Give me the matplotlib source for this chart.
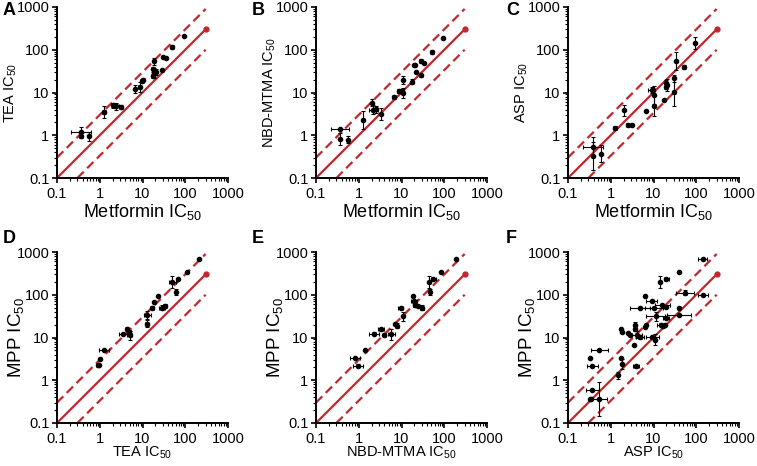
import matplotlib
matplotlib.use("Agg")
import numpy as np
import matplotlib.pyplot as plt
from matplotlib.ticker import FixedLocator, LogLocator, NullFormatter, FixedFormatter

plt.rcParams['font.family'] = ['Liberation Sans', 'DejaVu Sans']
plt.rcParams['mathtext.default'] = 'regular'

RED = '#c1272d'

# ---- data; err values are fold factors, 1 = no bar ----
# A: Metformin vs TEA
a_x = [0.37, 0.37, 0.56, 1.26, 2.04, 2.4, 3.2, 6.6, 8.6, 9.9, 10.2, 17.6, 18, 19, 18.5, 20.9, 29, 30, 35, 50, 92]
a_y = [1.22, 0.97, 0.94, 3.5, 5.0, 4.8, 4.6, 12.3, 13.7, 18.5, 20, 24, 35, 54, 29, 30, 33, 67, 63, 115, 207]
a_xerr = [1.7, 1, 1, 1.1, 1.1, 1.15, 1.05, 1.05, 1.1, 1, 1.05, 1, 1, 1, 1, 1, 1, 1, 1, 1, 1]
a_yerr = [1.3, 1.15, 1.25, 1.4, 1.15, 1.2, 1.1, 1.25, 1.3, 1.1, 1.1, 1.1, 1.15, 1.2, 1.3, 1.2, 1.05, 1.05, 1.05, 1.1, 1]

# B: Metformin vs NBD-MTMA
b_x = [0.36, 0.36, 0.57, 1.27, 2.0, 2.2, 2.5, 3.3, 6.6, 8.8, 10, 10.6, 10.6, 18, 19.7, 21, 21.6, 29, 29, 34, 51, 94]
b_y = [1.39, 0.81, 0.78, 2.3, 5.8, 4.0, 4.07, 3.1, 7.9, 10.8, 10.8, 9.7, 19.5, 18, 44, 44, 30, 54, 25, 48, 88, 190]
b_xerr = [1.6, 1, 1, 1.05, 1, 1.25, 1, 1, 1, 1.15, 1.1, 1, 1, 1, 1, 1, 1, 1, 1, 1, 1, 1]
b_yerr = [1, 1.4, 1.2, 1.6, 1.2, 1.25, 1.2, 1.4, 1.1, 1.1, 1.1, 1.3, 1.25, 1.15, 1.05, 1.05, 1, 1.1, 1.1, 1, 1.1, 1]

# C: Metformin vs ASP
c_x = [0.38, 0.38, 0.59, 1.26, 2.07, 2.5, 3.2, 6.6, 9.1, 10.3, 10.3, 18, 19.2, 20, 20.8, 30, 30, 34, 51, 95]
c_y = [0.53, 0.33, 0.37, 1.5, 3.8, 1.75, 1.7, 3.6, 11.4, 8.7, 4.8, 6.7, 16.4, 13.2, 14.8, 21.4, 10.4, 55, 40, 145]
c_xerr = [1.7, 1, 1, 1.1, 1, 1.1, 1, 1, 1.2, 1, 1, 1, 1, 1, 1, 1, 1, 1, 1, 1]
c_yerr = [1.7, 2.1, 1.6, 1, 1.35, 1, 1, 1, 1.15, 1.6, 1.7, 1, 1.2, 1.1, 1.4, 1.2, 2.1, 1.6, 1.1, 1.4]

# D: TEA vs MPP
d_x = [0.91, 0.95, 1.0, 1.26, 3.5, 4.3, 4.8, 5.0, 12.7, 13, 17, 19, 23, 28.6, 34, 50, 62, 67, 112, 205]
d_y = [2.23, 2.3, 3.2, 5.0, 12.3, 16, 13.4, 11.2, 21, 33, 50, 68, 92, 50, 56, 199, 116, 238, 334, 676]
d_xerr = [1, 1, 1, 1.3, 1.25, 1, 1.1, 1.15, 1.1, 1.2, 1.1, 1, 1, 1.15, 1.1, 1.2, 1, 1, 1.05, 1]
d_yerr = [1.1, 1, 1, 1, 1, 1.1, 1.1, 1.3, 1.2, 1.25, 1.1, 1.05, 1, 1.15, 1.1, 1.4, 1.15, 1, 1, 1]

# E: NBD-MTMA vs MPP
e_x = [0.81, 0.97, 1.39, 2.3, 3.3, 4.0, 5.8, 7.2, 7.9, 9.6, 10.6, 18.7, 19.5, 20.5, 24.5, 30, 43, 47.5, 55, 86, 192]
e_y = [3.3, 2.2, 5.0, 12.3, 15.5, 11.6, 11.9, 21, 19, 50, 31, 92, 70, 58, 53.6, 50, 199, 116, 238, 334, 676]
e_xerr = [1.3, 1.3, 1, 1.3, 1.2, 1.1, 1.2, 1.05, 1.05, 1.15, 1.05, 1.05, 1.2, 1.1, 1, 1.1, 1.05, 1.05, 1.15, 1.05, 1]
e_yerr = [1, 1.1, 1, 1.1, 1.1, 1, 1.35, 1.05, 1.15, 1.05, 1.3, 1, 1.1, 1.1, 1, 1.15, 1.4, 1.15, 1, 1, 1]

# F: ASP vs MPP
f_x = [141, 39, 20, 14.2, 55, 145, 6.4, 9.1, 16, 19.1, 4.9, 10.2, 40, 19.6, 11.2, 14.7, 16.7, 18.5, 39, 6.6,
       6.2, 3.7, 3.7, 2.6, 2.8, 1.79, 1.75, 4.07, 4.9, 9.4, 11, 3.5, 3.9, 1.73, 1.8, 1.5, 0.54, 0.33, 0.37,
       0.37, 0.33, 0.35, 0.52]
f_y = [676, 334, 238, 199, 112, 97, 92, 70, 58, 53, 50, 50, 50, 29, 31, 20, 18.7, 20, 34, 20,
       17.6, 20, 16, 12.8, 11.6, 13.2, 15.8, 11.6, 10.3, 10.3, 8.9, 6.6, 2.1, 3.4, 2.44, 1.3, 5.2, 3.3, 2.2,
       0.58, 0.37, 0.37, 0.37]
f_xerr = [1.25, 1, 1.15, 1, 1.6, 1.3, 1, 1.35, 1.5, 1, 1.7, 1.6, 1, 1.15, 1.7, 1.2, 1, 1, 1.9, 1,
          1, 1, 1, 1, 1, 1, 1, 1.3, 1.25, 1.4, 1, 1, 1.15, 1, 1, 1, 1.6, 1, 1.35,
          1.4, 1, 1, 1.6]
f_yerr = [1, 1, 1, 1.4, 1.15, 1, 1, 1, 1.05, 1, 1, 1, 1, 1, 1.25, 1.1, 1, 1, 1, 1,
          1, 1.15, 1.15, 1, 1, 1, 1, 1.2, 1.1, 1, 1.35, 1, 1.1, 1, 1.3, 1.2, 1, 1, 1,
          1, 1, 1, 2.5]

panels = [
    ('A', a_x, a_y, a_xerr, a_yerr, 'Metformin IC$_{50}$', 'TEA IC$_{50}$'),
    ('B', b_x, b_y, b_xerr, b_yerr, 'Metformin IC$_{50}$', 'NBD-MTMA IC$_{50}$'),
    ('C', c_x, c_y, c_xerr, c_yerr, 'Metformin IC$_{50}$', 'ASP IC$_{50}$'),
    ('D', d_x, d_y, d_xerr, d_yerr, 'TEA IC$_{50}$', 'MPP IC$_{50}$'),
    ('E', e_x, e_y, e_xerr, e_yerr, 'NBD-MTMA IC$_{50}$', 'MPP IC$_{50}$'),
    ('F', f_x, f_y, f_xerr, f_yerr, 'ASP IC$_{50}$', 'MPP IC$_{50}$'),
]

ticks = [0.1, 1, 10, 100, 1000]
tick_labels = ['0.1', '1', '10', '100', '1000']

W, H = 757, 466
fig = plt.figure(figsize=(W / 100, H / 100), dpi=100)

lefts = [57, 316, 568]
tops = [7, 252]
size = 171
dash = (0, (4, 2.2))

for i, (letter, x, y, xe, ye, xl, yl) in enumerate(panels):
    row, col = divmod(i, 3)
    l = lefts[col]
    t = tops[row]
    ax = fig.add_axes([l / W, 1 - (t + size) / H, size / W, size / H])
    ax.set_xscale('log')
    ax.set_yscale('log')
    ax.set_xlim(0.1, 1000)
    ax.set_ylim(0.1, 1000)

    # identity line and 3-fold bands
    ln = np.array([0.1, 300])
    ax.plot(ln, ln, color=RED, lw=1.6, zorder=1, clip_on=False)
    ax.plot(ln[1:], ln[1:], 'o', color=RED, ms=3.5, zorder=1, clip_on=False)
    ax.plot(ln, ln * 3, color=RED, lw=1.6, ls=dash, zorder=1, clip_on=False)
    ax.plot(np.array([0.3, 300]), np.array([0.3, 300]) / 3, color=RED, lw=1.6, ls=dash,
            zorder=1, clip_on=False)

    x = np.array(x)
    y = np.array(y)
    xe = np.array(xe)
    ye = np.array(ye)
    xerr = np.vstack([x - x / xe, x * xe - x])
    yerr = np.vstack([y - y / ye, y * ye - y])
    ax.errorbar(x, y, xerr=xerr, yerr=yerr, fmt='o', color='black', ms=3, elinewidth=0.8,
                capsize=1.5, capthick=0.8, zorder=3)

    for s in ['top', 'right']:
        ax.spines[s].set_visible(False)
    for s in ['left', 'bottom']:
        ax.spines[s].set_linewidth(1.4)

    for axis in (ax.xaxis, ax.yaxis):
        axis.set_major_locator(FixedLocator(ticks))
        axis.set_major_formatter(FixedFormatter(tick_labels))
        axis.set_minor_locator(LogLocator(base=10, subs=np.arange(2, 10)))
        axis.set_minor_formatter(NullFormatter())
    ax.tick_params(which='major', length=3.5, width=1.2, labelsize=10.5, pad=2)
    ax.tick_params(axis='x', which='major', pad=3)
    ax.tick_params(which='minor', length=2, width=0.8)

    if row == 0:
        ax.set_xlabel(xl, fontsize=13)
        ax.set_ylabel(yl, fontsize=10.5)
        ax.xaxis.set_label_coords(0.5, -34 / size)
        ax.yaxis.set_label_coords(-46 / size, 0.5)
    else:
        ax.set_xlabel(xl, fontsize=10.5)
        ax.set_ylabel(yl, fontsize=13.5)
        ax.xaxis.set_label_coords(0.5, -30 / size)
        ax.yaxis.set_label_coords(-41 / size, 0.5)
    for lab in (ax.xaxis.label, ax.yaxis.label):
        lab.set_verticalalignment('center')
        lab.set_horizontalalignment('center')

    lx = [3, 252, 506][col]
    ly = [2, 230][row]
    fig.text(lx / W, 1 - ly / H, letter, fontsize=13, fontweight='bold', va='top', ha='left')

fig.savefig('out.png', dpi=100)
